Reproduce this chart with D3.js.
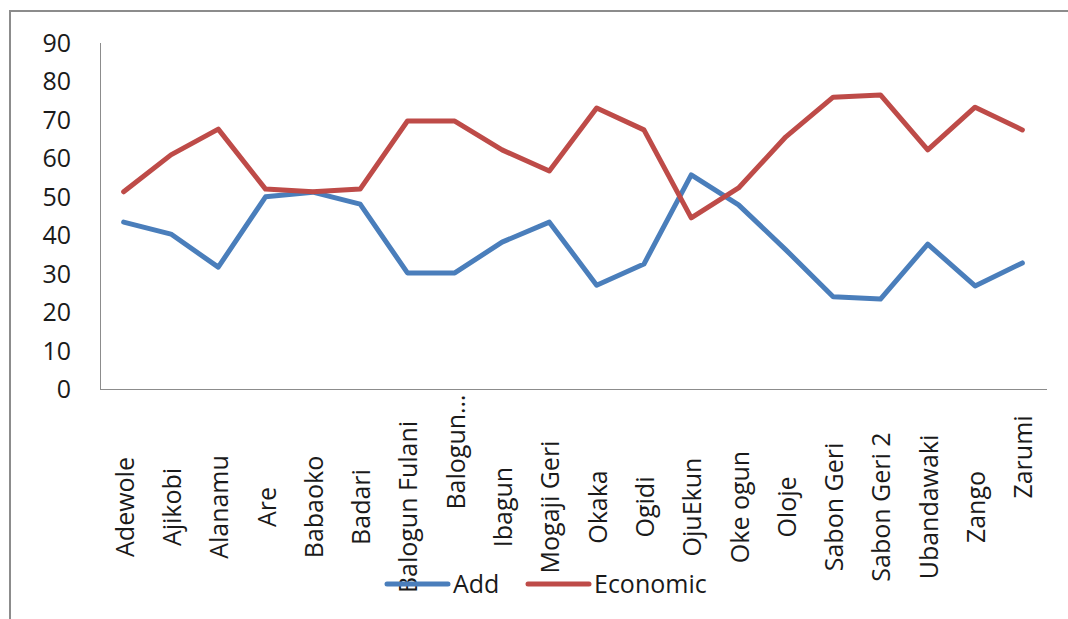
<!DOCTYPE html>
<html>
<head>
<meta charset="utf-8">
<script src="https://cdn.jsdelivr.net/npm/d3@7"></script>
<style>
  body { margin: 0; background: #fff; }
  svg text { font-family: "Open Sans", sans-serif; fill: #1a1a1a; }
</style>
</head>
<body>
<div id="chart"></div>
<script>
var places = ["Adewole", "Ajikobi", "Alanamu", "Are", "Babaoko", "Badari", "Balogun Fulani", "Balogun\u2026",
   "Ibagun", "Mogaji Geri", "Okaka", "Ogidi", "OjuEkun", "Oke ogun", "Oloje", "Sabon Geri", "Sabon Geri 2",
   "Ubandawaki", "Zango", "Zarumi"];
var add_vals = [43.4, 40.3, 31.7, 50, 51.2, 48.1, 30.2, 30.2, 38.2, 43.4, 27, 32.5, 55.7, 47.9, 36.2, 24, 23.4, 37.7, 26.8, 32.8];
var econ_vals = [51.3, 60.9, 67.6, 52, 51.3, 52, 69.7, 69.7, 62.2, 56.7, 73.1, 67.4, 44.5, 52.3, 65.6, 75.9, 76.5, 62.2, 73.3, 67.4];
var y_ticks = [0, 10, 20, 30, 40, 50, 60, 70, 80, 90];
var series_names = ["Add", "Economic"];

var W = 1068, H = 619;
var svg = d3.select("#chart").append("svg").attr("width", W).attr("height", H);

// outer chart frame (right/bottom edges fall outside the picture)
svg.append("rect").attr("x", 10).attr("y", 11).attr("width", W + 20).attr("height", H + 20)
   .attr("fill", "none").attr("stroke", "#8c8c8c").attr("stroke-width", 2);

var x = d3.scaleBand().domain(places).range([100, 1046]);
var y = d3.scaleLinear().domain([0, 90]).range([389, 43]);

// axes lines
svg.append("line").attr("x1", 100.5).attr("x2", 100.5).attr("y1", y(90)).attr("y2", y(0))
   .attr("stroke", "#8c8c8c").attr("stroke-width", 1);
svg.append("line").attr("x1", 100).attr("x2", 1047).attr("y1", y(0) + 0.5).attr("y2", y(0) + 0.5)
   .attr("stroke", "#8c8c8c").attr("stroke-width", 1);

svg.append("g").selectAll("text").data(y_ticks).enter().append("text")
   .attr("x", 71).attr("y", function(d) { return y(d); }).attr("dy", "0.36em")
   .attr("text-anchor", "end").attr("font-size", 25)
   .text(function(d) { return d; });

// excel nudged a couple of the rotated labels upward
var label_shift = { "Balogun\u2026": -55, "Zarumi": -50 };
svg.append("g").selectAll("text").data(places).enter().append("text")
   .attr("transform", function(d) {
      return "translate(" + (x(d) + x.bandwidth() / 2 + 1) + "," + (507 + (label_shift[d] || 0)) + ") rotate(-90)";
   })
   .attr("text-anchor", "middle").attr("dy", "0.36em").attr("font-size", 25)
   .text(function(d) { return d; });

var colors = ["#4a7ebb", "#be4b48"];
var line = d3.line()
   .x(function(d, i) { return x(places[i]) + x.bandwidth() / 2; })
   .y(function(d) { return y(d); });

[add_vals, econ_vals].forEach(function(vals, k) {
   svg.append("path").datum(vals).attr("d", line)
      .attr("fill", "none").attr("stroke", colors[k]).attr("stroke-width", 5)
      .attr("stroke-linejoin", "round").attr("stroke-linecap", "round");
});

// legend
var legend_x = [387, 528];
series_names.forEach(function(name, k) {
   svg.append("line").attr("x1", legend_x[k]).attr("x2", legend_x[k] + 61).attr("y1", 584).attr("y2", 584)
      .attr("stroke", colors[k]).attr("stroke-width", 5).attr("stroke-linecap", "round");
   svg.append("text").attr("x", legend_x[k] + 66).attr("y", 584).attr("dy", "0.36em")
      .attr("font-size", 25).text(name);
});
</script>
</body>
</html>
